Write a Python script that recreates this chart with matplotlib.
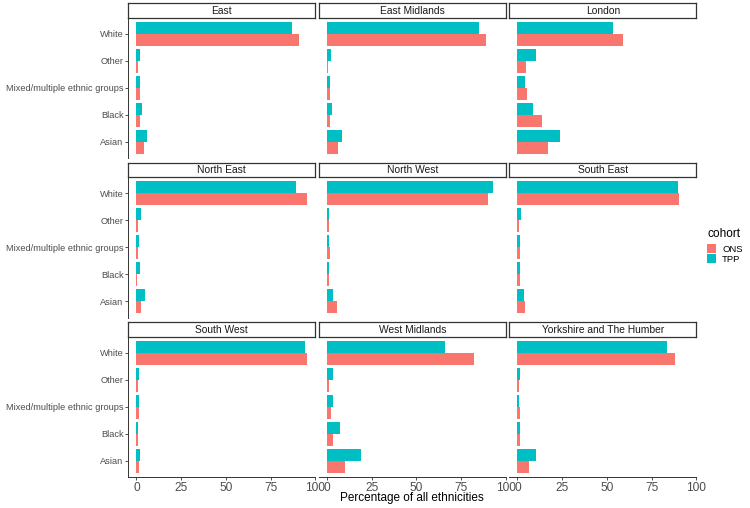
### Faceted bar chart: ethnicity share by region, ONS vs TPP cohort ###

### Packages ###
import numpy as np
import matplotlib
matplotlib.use("Agg")
import matplotlib.pyplot as plt
from matplotlib.patches import Patch

### Data ###
regions = ['East', 'East Midlands', 'London',
           'North East', 'North West', 'South East',
           'South West', 'West Midlands', 'Yorkshire and The Humber']
categories = ['Asian', 'Black', 'Mixed/multiple ethnic groups', 'Other', 'White']  # bottom to top

# percent of all ethnicities, one row per region, columns follow categories
tpp_pct = [
    [5.8, 3.0, 2.1, 2.2, 87.1],
    [8.6, 2.8, 2.0, 2.4, 84.8],
    [23.7, 8.6, 4.1, 10.2, 53.2],
    [4.8, 1.9, 1.6, 2.4, 89.3],
    [3.5, 1.1, 1.1, 1.3, 93.0],
    [3.7, 1.3, 1.6, 2.1, 89.8],
    [2.1, 0.8, 1.3, 1.6, 94.3],
    [19.2, 7.2, 3.2, 3.2, 66.3],
    [10.4, 1.6, 1.1, 1.6, 83.6],
]
ons_pct = [
    [4.3, 2.1, 2.1, 1.0, 90.9],
    [6.2, 1.8, 2.0, 0.9, 89.1],
    [17.3, 13.6, 5.2, 5.1, 58.9],
    [2.4, 0.5, 1.1, 1.1, 95.1],
    [5.6, 1.3, 1.6, 1.3, 89.8],
    [4.5, 1.3, 1.6, 1.1, 90.1],
    [1.6, 0.8, 1.3, 0.9, 95.4],
    [10.2, 3.2, 2.1, 1.3, 82.0],
    [6.4, 1.3, 1.3, 0.8, 88.2],
]
x_ticks = [0, 25, 50, 75, 100]

### Styling ###
plt.rcParams['font.family'] = ['Liberation Sans', 'DejaVu Sans']
ons_col = '#F8766D'
tpp_col = '#00BFC4'
line_col = '#333333'
tick_txt = '#4D4D4D'

W, H = 750, 508
fig = plt.figure(figsize=(W / 100, H / 100), dpi=100)

# panel geometry in pixels
col_left = [128.3, 318.8, 509.3]
panel_w = 187.0
row_top = [3.0, 162.5, 322.0]
strip_h = 14.5
panel_h = 140.5

y = np.arange(1, len(categories) + 1)
bar_h = 0.45

for i, region in enumerate(regions):
    r, c = divmod(i, 3)
    x0 = col_left[c] / W
    ptop = row_top[r] + strip_h
    ax = fig.add_axes([x0, 1 - (ptop + panel_h) / H, panel_w / W, panel_h / H])
    sx = fig.add_axes([x0, 1 - ptop / H, panel_w / W, strip_h / H])

    ax.barh(y + bar_h / 2, tpp_pct[i], height=bar_h, color=tpp_col, linewidth=0)
    ax.barh(y - bar_h / 2, ons_pct[i], height=bar_h, color=ons_col, linewidth=0)
    ax.set_xlim(-4.5, 100)
    ax.set_ylim(0.4, len(categories) + 0.6)

    for s in ['top', 'right']:
        ax.spines[s].set_visible(False)
    ax.spines['left'].set_visible(c == 0)
    ax.spines['bottom'].set_visible(r == 2)
    for s in ['left', 'bottom']:
        ax.spines[s].set_color(line_col)
        ax.spines[s].set_linewidth(0.7)

    ax.set_yticks(y)
    ax.set_xticks(x_ticks)
    if c == 0:
        ax.set_yticklabels(categories)
        ax.tick_params(axis='y', length=2, width=0.6, color=line_col,
                       labelsize=6.7, labelcolor=tick_txt, pad=1.5)
    else:
        ax.tick_params(axis='y', left=False, labelleft=False)
    if r == 2:
        ax.set_xticklabels([str(t) for t in x_ticks])
        ax.tick_params(axis='x', length=2, width=0.6, color=line_col,
                       labelsize=8.6, labelcolor=tick_txt, pad=1.5)
    else:
        ax.tick_params(axis='x', bottom=False, labelbottom=False)

    # facet strip
    sx.set_xticks([])
    sx.set_yticks([])
    for s in sx.spines.values():
        s.set_color(line_col)
        s.set_linewidth(0.9)
    sx.text(0.5, 0.45, region, ha='center', va='center', fontsize=7.4,
            color='#1A1A1A', transform=sx.transAxes)

# x axis title
fig.text((col_left[0] + col_left[2] + panel_w) / 2 / W, 1 - 498 / H,
         'Percentage of all ethnicities', ha='center', va='center', fontsize=8.5)

# legend: title placed by hand so the gap to the keys matches
fig.text(707 / W, 1 - 234 / H, 'cohort', ha='left', va='center', fontsize=8.6)
handles = [Patch(facecolor=ons_col, label='ONS'), Patch(facecolor=tpp_col, label='TPP')]
leg = fig.legend(handles=handles, loc='upper left',
                 bbox_to_anchor=(707 / W, 1 - 244.5 / H), frameon=False,
                 fontsize=6.8, handlelength=1.0, handleheight=1.05,
                 labelspacing=0.0, handletextpad=0.6,
                 borderpad=0, borderaxespad=0)

fig.savefig('out.png', dpi=100)
